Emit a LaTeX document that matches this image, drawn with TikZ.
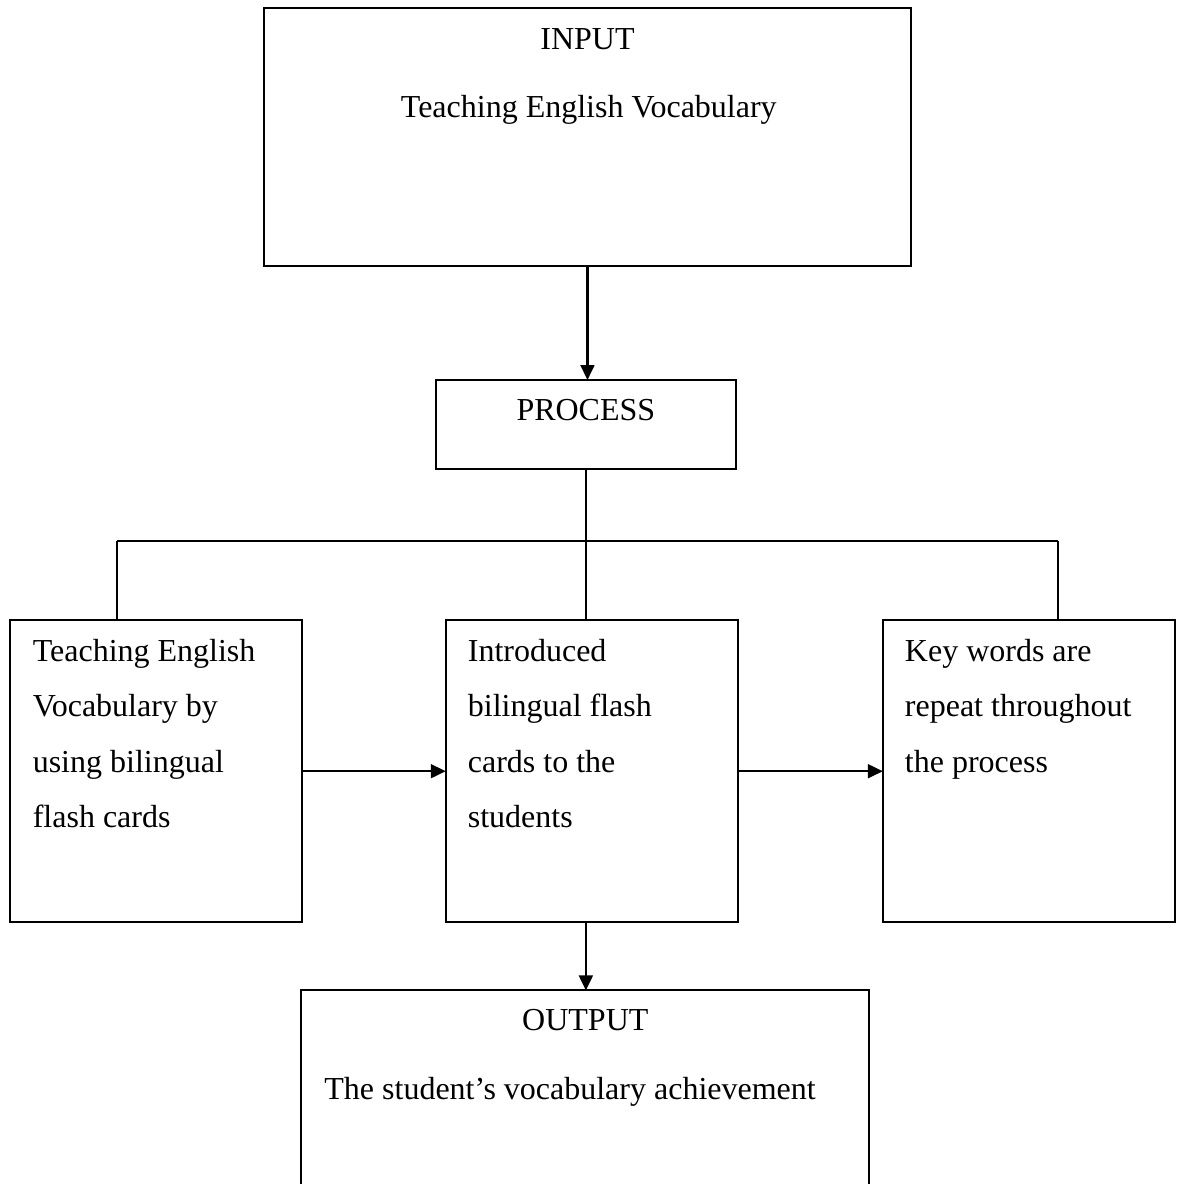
\documentclass[tikz,border=0pt]{standalone}
\usepackage{fontspec}
\setmainfont{Liberation Serif}
\usetikzlibrary{positioning,arrows.meta}

\begin{document}
\begin{tikzpicture}[thick, >={Triangle[length=5.6pt,width=5.2pt]},
	every node/.style={font=\fontsize{12pt}{20.8pt}\selectfont},
	frame/.style={draw, inner sep=0pt, outer sep=0pt, minimum width=109.5pt, minimum height=113.4pt},
	lines/.style={align=left, inner sep=0pt, anchor=north west}]

\useasboundingbox (0,0) rectangle (441.4pt,-444pt);

\node [frame, minimum width=242.6pt, minimum height=96.75pt, anchor=north] (in) at (220.3pt,-3pt) {};   %input box
\node [anchor=base] (inTitle) at ([yshift=-15.75pt]in.north) {INPUT};
\node [anchor=base] (inText) at ([xshift=0.5pt,yshift=-40.9pt]in.north) {Teaching English Vocabulary};

\node [frame, below=42.75pt of in, xshift=-0.6pt, minimum width=112.5pt, minimum height=33.4pt] (proc) {};   %process box
\node [anchor=base] (procTitle) at ([yshift=-15pt]proc.north) {PROCESS};

%the three steps
\node [frame, below=56.6pt of proc, xshift=2.2pt] (b2) {};
\node [frame, left=54pt of b2] (b1) {};
\node [frame, right=54.4pt of b2] (b3) {};

\node [lines] (t1) at ([xshift=8.25pt,yshift=-0.44pt]b1.north west) {\strut Teaching English\\Vocabulary by\\using bilingual\\flash cards};
\node [lines] (t2) at ([xshift=7.9pt,yshift=-0.44pt]b2.north west) {\strut Introduced\\bilingual flash\\cards to the\\students};
\node [lines] (t3) at ([xshift=7.9pt,yshift=-0.44pt]b3.north west) {\strut Key words are\\repeat throughout\\the process};

\node [frame, below=25.5pt of b2, xshift=-2.4pt, minimum width=213pt, minimum height=112.5pt] (out) {};   %output box
\node [anchor=base] (outTitle) at ([yshift=-15pt]out.north) {OUTPUT};
\node [anchor=base west, inner sep=0pt] (outText) at ([xshift=8.25pt,yshift=-40.9pt]out.north west) {The student’s vocabulary achievement};

\coordinate (bl) at (43.9pt,-202.9pt);   %ends of the branch line
\coordinate (br) at (396.75pt,-202.9pt);

\draw [->] (in.south) -- (in.south |- proc.north);
\draw (proc.south) -- (proc.south |- bl);
\draw (bl) -- (br);
\draw (bl) -- (bl |- b1.north);
\draw (proc.south |- bl) -- (proc.south |- b2.north);
\draw (br) -- (br |- b3.north);

\draw [->] (b1.east) -- (b1.east -| b2.west);
\draw [->] (b2.east) -- (b2.east -| b3.west);
\draw [->] (proc.south |- b2.south) -- (proc.south |- out.north);

\end{tikzpicture}
\end{document}
